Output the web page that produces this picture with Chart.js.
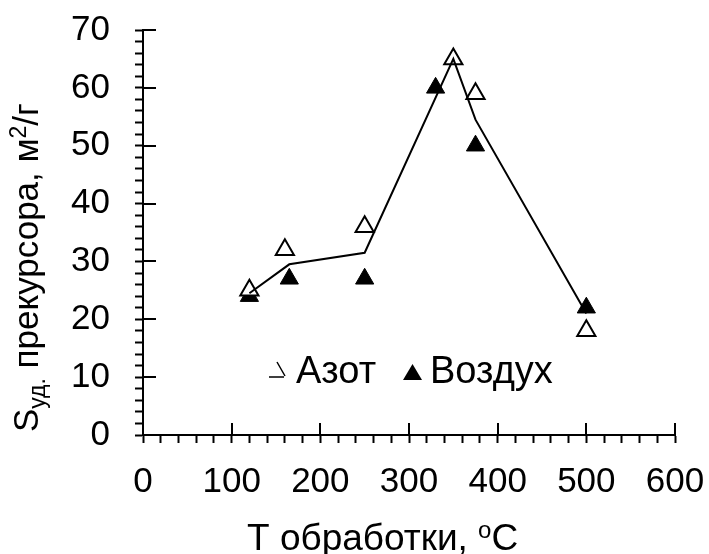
<!DOCTYPE html>
<html>
<head>
<meta charset="utf-8">
<script src="https://cdn.jsdelivr.net/npm/chart.js@4.4.0/dist/chart.umd.min.js"></script>
<style>
  body { margin: 0; background: #fff; }
</style>
</head>
<body>
<canvas id="myChart" width="709" height="554"></canvas>
<script>
// Values
var nitrogenX = [120, 160, 250, 350, 375, 500];
var nitrogenY = [25, 32, 36, 65, 59, 18];
var airX = [120, 165, 250, 330, 375, 500];
var airY = [24, 27, 27, 60, 50, 22];
var trendX = [120, 165, 250, 350, 375, 500];
var trendY = [24.5, 29.5, 31.5, 65, 54.5, 21];

// Axis ticks
var xLabels = [0, 100, 200, 300, 400, 500, 600];
var yLabels = [0, 10, 20, 30, 40, 50, 60, 70];
var seriesNames = ['Азот', 'Воздух'];

var FONT = '"Liberation Sans", Arial, sans-serif';

function points(xs, ys) {
  return xs.map((x, i) => ({ x: x, y: ys[i] }));
}

// fixed sizes so the plot area lands where it is in the figure
function fitScale(scale, size) {
  if (scale.isHorizontal()) scale.height = size;
  else scale.width = size;
  scale.paddingTop = 0;
  scale.paddingBottom = 0;
  scale.paddingLeft = 0;
  scale.paddingRight = 0;
}

// draws the inner half of major ticks, the axis titles and the legend
var extrasPlugin = {
  id: 'extras',
  afterDraw(chart) {
    const ctx = chart.ctx;
    const area = chart.chartArea;
    const xs = chart.scales.x;
    const ys = chart.scales.y;
    ctx.save();
    ctx.strokeStyle = '#000';
    ctx.lineWidth = 2;
    ctx.beginPath();
    xLabels.forEach(v => {
      const px = Math.round(xs.getPixelForValue(v));
      ctx.moveTo(px, area.bottom);
      ctx.lineTo(px, area.bottom - 12);
    });
    yLabels.forEach(v => {
      const py = Math.round(ys.getPixelForValue(v));
      ctx.moveTo(area.left, py);
      ctx.lineTo(area.left + 13, py);
    });
    ctx.stroke();

    ctx.fillStyle = '#000';
    ctx.textBaseline = 'alphabetic';
    ctx.textAlign = 'left';

    // x axis title
    let x = 247, y = 550;
    ctx.font = '37px ' + FONT;
    ctx.fillText('T обработки, ', x, y);
    x += ctx.measureText('T обработки, ').width;
    ctx.font = '24px ' + FONT;
    ctx.fillText('o', x, y - 12);
    x += ctx.measureText('o').width;
    ctx.font = '37px ' + FONT;
    ctx.fillText('C', x, y);

    // y axis title, rotated
    ctx.save();
    ctx.translate(38, 432);
    ctx.rotate(-Math.PI / 2);
    x = 0;
    ctx.font = '35px ' + FONT;
    ctx.fillText('S', x, 0);
    x += ctx.measureText('S').width;
    ctx.font = '23px ' + FONT;
    ctx.fillText('уд.', x, 7);
    x += ctx.measureText('уд.').width;
    ctx.font = '35px ' + FONT;
    ctx.fillText(' прекурсора, м', x, 0);
    x += ctx.measureText(' прекурсора, м').width;
    ctx.font = '23px ' + FONT;
    ctx.fillText('2', x, -12);
    x += ctx.measureText('2').width;
    ctx.font = '35px ' + FONT;
    ctx.fillText('/г', x, 0);
    ctx.restore();

    // legend
    ctx.font = '38px ' + FONT;
    ctx.beginPath();
    ctx.moveTo(269, 377);
    ctx.lineTo(284, 377);
    ctx.moveTo(277, 362);
    ctx.lineTo(285, 376);
    ctx.lineWidth = 1.5;
    ctx.stroke();
    ctx.fillText(seriesNames[0], 296, 383);

    ctx.beginPath();
    ctx.moveTo(412.5, 364);
    ctx.lineTo(422, 380);
    ctx.lineTo(403, 380);
    ctx.closePath();
    ctx.fill();
    ctx.fillText(seriesNames[1], 430, 383);
    ctx.restore();
  }
};

const ctx = document.getElementById('myChart');
var myChart = new Chart(ctx, {
  type: 'scatter',
  data: {
    datasets: [{
      label: 'trend',
      data: points(trendX, trendY),
      showLine: true,
      borderColor: '#000',
      borderWidth: 2,
      pointRadius: 0,
      tension: 0,
    }, {
      label: seriesNames[0],
      data: points(nitrogenX, nitrogenY),
      pointStyle: 'triangle',
      pointRadius: 10.5,
      backgroundColor: '#fff',
      borderColor: '#000',
      borderWidth: 2,
    }, {
      label: seriesNames[1],
      data: points(airX, airY),
      pointStyle: 'triangle',
      pointRadius: 10.5,
      backgroundColor: '#000',
      borderColor: '#000',
      borderWidth: 1,
    }]
  },
  options: {
    responsive: false,
    animation: false,
    layout: {
      padding: { top: 30, right: 34, left: 0, bottom: 0 }
    },
    scales: {
      x: {
        type: 'linear',
        min: 0,
        max: 600,
        afterFit: (scale) => fitScale(scale, 119),
        border: { color: '#000', width: 2 },
        grid: { drawOnChartArea: false, color: '#000', tickLength: 8, tickWidth: 2 },
        ticks: {
          stepSize: 20,
          autoSkip: false,
          maxRotation: 0,
          padding: 18,
          color: '#000',
          font: { family: FONT, size: 35 },
          callback: (v) => xLabels.includes(v) ? v : '',
        }
      },
      y: {
        min: 0,
        max: 70,
        afterFit: (scale) => fitScale(scale, 143),
        border: { color: '#000', width: 2 },
        grid: { drawOnChartArea: false, color: '#000', tickLength: 8, tickWidth: 2 },
        ticks: {
          stepSize: 2,
          autoSkip: false,
          padding: 25,
          color: '#000',
          font: { family: FONT, size: 35 },
          callback: (v) => yLabels.includes(v) ? v : '',
        }
      }
    },
    plugins: {
      legend: { display: false },
      tooltip: { enabled: false },
    }
  },
  plugins: [extrasPlugin]
});
</script>
</body>
</html>
